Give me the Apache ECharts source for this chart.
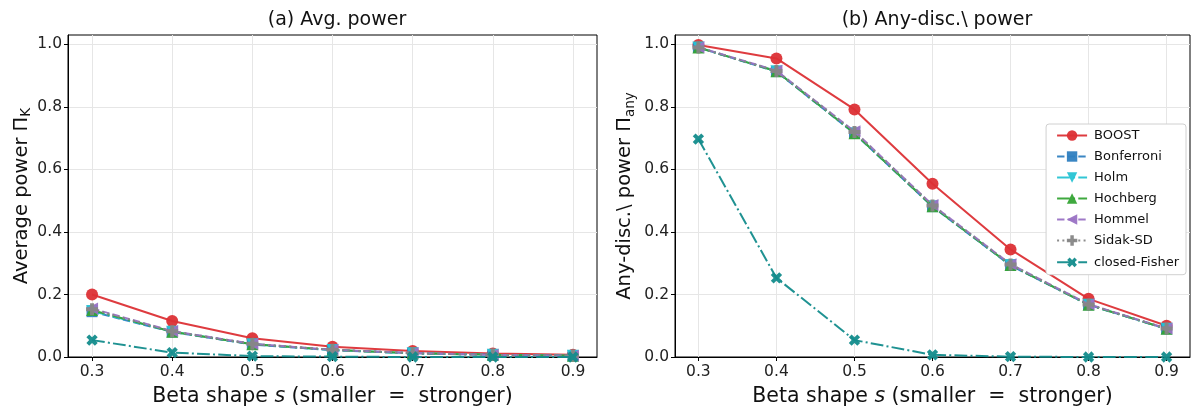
<!DOCTYPE html>
<html>
<head>
<meta charset="utf-8">
<script src="https://cdn.jsdelivr.net/npm/echarts@6/dist/echarts.min.js"></script>
<style>
  html, body { margin: 0; padding: 0; background: #fff; }
  #chart { width: 1198px; height: 412px; }
</style>
</head>
<body>
<div id="chart"></div>
<script>
// beta shape values on the x axis
const shapes = [0.3, 0.4, 0.5, 0.6, 0.7, 0.8, 0.9];
const yTicks = [0, 0.2, 0.4, 0.6, 0.8, 1.0];
const methods = ['BOOST', 'Bonferroni', 'Holm', 'Hochberg', 'Hommel', 'Sidak-SD', 'closed-Fisher'];

// (a) average power
const avgBoost      = [0.200, 0.115, 0.060, 0.033, 0.019, 0.011, 0.007];
const avgBonferroni = [0.145, 0.080, 0.040, 0.022, 0.012, 0.007, 0.004];
const avgHolm       = [0.147, 0.081, 0.041, 0.022, 0.012, 0.007, 0.004];
const avgHochberg   = [0.150, 0.081, 0.041, 0.023, 0.012, 0.007, 0.004];
const avgHommel     = [0.155, 0.083, 0.042, 0.023, 0.013, 0.007, 0.004];
const avgSidak      = [0.153, 0.082, 0.042, 0.023, 0.012, 0.007, 0.004];
const avgFisher     = [0.054, 0.014, 0.003, 0.001, 0.000, 0.000, 0.000];

// (b) any-discovery power
const anyBoost      = [0.998, 0.955, 0.792, 0.554, 0.344, 0.186, 0.100];
const anyBonferroni = [0.990, 0.913, 0.715, 0.481, 0.293, 0.167, 0.090];
const anyHolm       = [0.990, 0.914, 0.716, 0.482, 0.294, 0.167, 0.090];
const anyHochberg   = [0.990, 0.914, 0.716, 0.482, 0.294, 0.167, 0.090];
const anyHommel     = [0.991, 0.916, 0.722, 0.486, 0.297, 0.169, 0.091];
const anySidak      = [0.990, 0.915, 0.720, 0.485, 0.296, 0.168, 0.091];
const anyFisher     = [0.697, 0.253, 0.054, 0.007, 0.001, 0.000, 0.000];

const avgData = [avgBoost, avgBonferroni, avgHolm, avgHochberg, avgHommel, avgSidak, avgFisher];
const anyData = [anyBoost, anyBonferroni, anyHolm, anyHochberg, anyHommel, anySidak, anyFisher];

const plusPath = 'path://M-1,-3H1V-1H3V1H1V3H-1V1H-3V-1H-1Z';
const styles = [
  { color: '#dc3035', dash: 'solid', symbol: 'circle', size: 12, rot: 0 },
  { color: '#2f7fc0', dash: [7.4, 3.2], symbol: 'rect', size: 11, rot: 0 },
  { color: '#27c3d3', dash: [12.8, 3.2, 2, 3.2], symbol: 'triangle', size: 12, rot: 180 },
  { color: '#35a435', dash: [12.8, 3.2, 2, 3.2], symbol: 'triangle', size: 12, rot: 0 },
  { color: '#9a72c4', dash: [7.4, 3.2], symbol: 'triangle', size: 12, rot: 90 },
  { color: '#868686', dash: [2, 3.3], symbol: plusPath, size: 12, rot: 0 },
  { color: '#138c8c', dash: [12.8, 3.2, 2, 3.2], symbol: plusPath, size: 12, rot: 45 }
];

const font = 'DejaVu Sans';

function makeSeries(data, idx) {
  return methods.map(function (name, i) {
    const s = styles[i];
    return {
      name: name,
      type: 'line',
      xAxisIndex: idx,
      yAxisIndex: idx,
      data: shapes.map(function (x, j) { return [x, data[i][j]]; }),
      symbol: s.symbol,
      symbolSize: s.size,
      symbolRotate: s.rot,
      showAllSymbol: true,
      itemStyle: { color: s.color, opacity: 0.95 },
      lineStyle: { color: s.color, width: 2, type: s.dash, opacity: 0.95 },
      emphasis: { disabled: true },
      z: 2 + i
    };
  });
}

function xAxisOf(idx) {
  return {
    type: 'value',
    gridIndex: idx,
    min: 0.27,
    max: 0.93,
    name: '{n|Beta shape }{i|s}{n| (smaller  =  stronger)}',
    nameLocation: 'middle',
    nameGap: 29,
    nameTextStyle: {
      rich: {
        n: { fontFamily: font, fontSize: 20.5, color: '#111' },
        i: { fontFamily: font, fontSize: 20.5, color: '#111', fontStyle: 'italic' }
      }
    },
    axisLine: { show: true, lineStyle: { color: '#000', width: 1 } },
    axisTick: { show: true, length: 4, customValues: shapes, lineStyle: { color: '#000' } },
    axisLabel: {
      customValues: shapes,
      fontFamily: font, fontSize: 15.5, color: '#222', margin: 7,
      formatter: function (v) { return v.toFixed(1); }
    },
    splitLine: { show: true, lineStyle: { color: '#e6e6e6', width: 1 } }
  };
}

function yAxisOf(idx, label, sub, gap) {
  return {
    type: 'value',
    gridIndex: idx,
    min: 0,
    max: 1.03,
    name: '{n|' + label + '}{s|' + sub + '}',
    nameLocation: 'middle',
    nameGap: gap,
    nameTextStyle: {
      rich: {
        n: { fontFamily: font, fontSize: 19.5, color: '#111', lineHeight: 24, verticalAlign: 'middle' },
        s: { fontFamily: font, fontSize: 13.5, color: '#111', lineHeight: 24, verticalAlign: 'bottom', padding: [9, 0, 0, 0] }
      }
    },
    axisLine: { show: true, lineStyle: { color: '#000', width: 1 } },
    axisTick: { show: true, length: 4, customValues: yTicks, lineStyle: { color: '#000' } },
    axisLabel: {
      customValues: yTicks,
      fontFamily: font, fontSize: 15.5, color: '#222', margin: 6,
      formatter: function (v) { return v.toFixed(1); }
    },
    splitLine: { show: true, lineStyle: { color: '#e6e6e6', width: 1 } }
  };
}

const chart = echarts.init(document.getElementById('chart'), null, { renderer: 'canvas' });
chart.setOption({
  animation: false,
  backgroundColor: '#fff',
  title: [
    { text: '(a) Avg. power', left: 332, top: 6, textAlign: 'center',
      textStyle: { fontFamily: font, fontSize: 19, fontWeight: 'normal', color: '#111' } },
    { text: '(b) Any-disc.\\ power', left: 932, top: 6, textAlign: 'center',
      textStyle: { fontFamily: font, fontSize: 19, fontWeight: 'normal', color: '#111' } }
  ],
  grid: [
    { left: 68, top: 35, width: 529, height: 323, show: true, borderColor: '#000', borderWidth: 1, backgroundColor: 'transparent' },
    { left: 675, top: 35, width: 515, height: 323, show: true, borderColor: '#000', borderWidth: 1, backgroundColor: 'transparent' }
  ],
  xAxis: [xAxisOf(0), xAxisOf(1)],
  yAxis: [
    yAxisOf(0, 'Average power Π', 'K', 34),
    yAxisOf(1, 'Any-disc.\\ power Π', 'any', 38)
  ],
  legend: {
    data: methods,
    orient: 'vertical',
    right: 12,
    top: 124,
    itemWidth: 30,
    itemHeight: 13,
    itemGap: 8,
    padding: [5, 7, 5, 10],
    backgroundColor: '#fff',
    borderColor: '#d0d0d0',
    borderWidth: 1,
    borderRadius: 3,
    textStyle: { fontFamily: font, fontSize: 13, color: '#111', padding: [0, 0, 0, 2] },
    selectedMode: false
  },
  series: makeSeries(avgData, 0).concat(makeSeries(anyData, 1))
});
</script>
</body>
</html>
